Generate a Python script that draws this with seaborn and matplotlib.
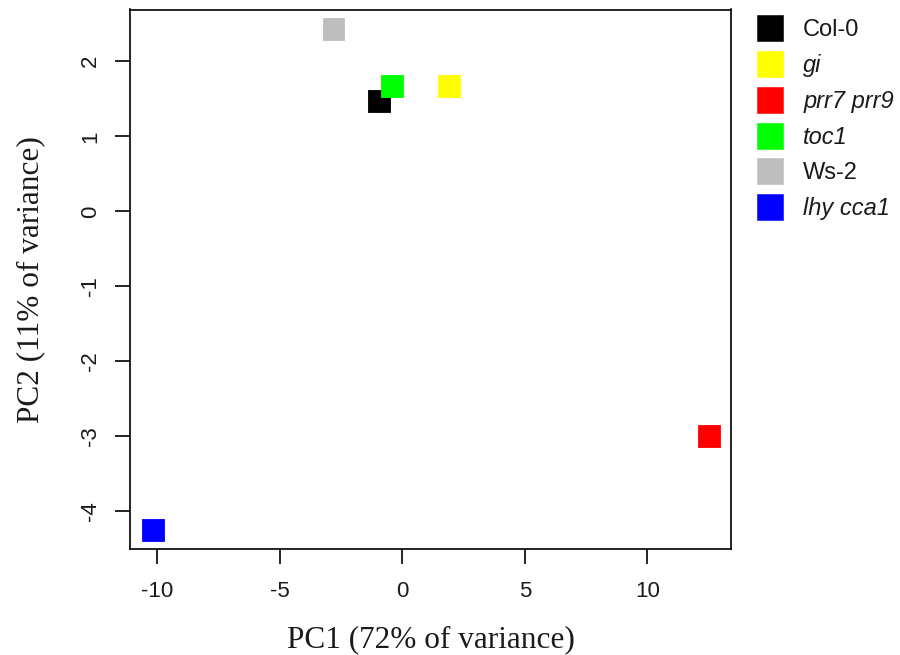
import matplotlib
matplotlib.use("Agg")
import matplotlib.pyplot as plt
from matplotlib.lines import Line2D
import seaborn as sns
import pandas as pd

# PCA scores for each genotype
genotypes = ["Col-0", "gi", "prr7 prr9", "toc1", "Ws-2", "lhy cca1"]
pc1 = [-0.97, 1.90, 12.53, -0.44, -2.81, -10.20]
pc2 = [1.47, 1.67, -3.00, 1.67, 2.43, -4.25]
colors = ["#000000", "#ffff00", "#ff0000", "#00ff00", "#bebebe", "#0000ff"]
italic = [False, True, True, True, False, True]

x_ticks = [-10, -5, 0, 5, 10]
y_ticks = [-4, -3, -2, -1, 0, 1, 2]

df = pd.DataFrame({"PC1": pc1, "PC2": pc2, "genotype": genotypes})
palette = dict(zip(genotypes, colors))

sns.set_theme(style="white")
plt.rcParams["font.family"] = ["Liberation Sans", "DejaVu Sans"]

fig = plt.figure(figsize=(9, 6.55), dpi=100)
ax = fig.add_axes([130 / 900, 106 / 655, 601 / 900, 539.5 / 655])

sns.scatterplot(data=df, x="PC1", y="PC2", hue="genotype", hue_order=genotypes,
                palette=palette, marker="s", s=250, linewidth=0.6,
                edgecolor=colors, legend=False, ax=ax, zorder=3)

ax.set_xlim(-11.12, 13.42)
ax.set_ylim(-4.5, 2.69)
ax.set_xticks(x_ticks)
ax.set_yticks(y_ticks)
ax.set_xticklabels([str(v) for v in x_ticks])
ax.set_yticklabels([str(v) for v in y_ticks], rotation=90, va="center")

for side in ["left", "bottom", "top", "right"]:
    ax.spines[side].set_visible(True)
    ax.spines[side].set_color("black")
    ax.spines[side].set_linewidth(1.2)

ax.tick_params(axis="both", which="major", direction="out", length=11,
               width=1.2, color="black", labelsize=16, labelcolor="#1a1a1a",
               bottom=True, left=True)
ax.tick_params(axis="x", pad=12)
ax.tick_params(axis="y", pad=10)

serif = ["Liberation Serif", "DejaVu Serif"]
ax.set_xlabel("PC1 (72% of variance)", family=serif, fontsize=22.5,
              color="#1a1a1a", labelpad=17)
ax.set_ylabel("PC2 (11% of variance)", family=serif, fontsize=22.5,
              color="#1a1a1a", labelpad=25)

handles = [Line2D([0], [0], marker="s", linestyle="", markersize=18.5,
                  markerfacecolor=c, markeredgecolor=c, markeredgewidth=0.4)
           for c in colors]
leg = fig.legend(handles, genotypes, loc="upper left",
                 bbox_to_anchor=(756 / 900, 1 - 19 / 655),
                 frameon=False, fontsize=17, handlelength=1.2,
                 handletextpad=0.8, labelspacing=0.55,
                 borderpad=0, borderaxespad=0)
for txt, it in zip(leg.get_texts(), italic):
    txt.set_color("#1a1a1a")
    if it:
        txt.set_style("italic")

fig.savefig("out.png", dpi=100, facecolor="white")
